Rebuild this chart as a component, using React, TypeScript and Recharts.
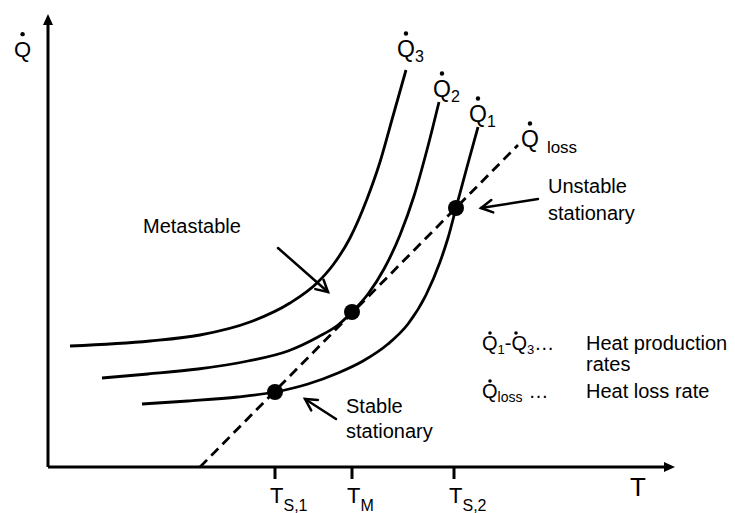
import {
  ComposedChart,
  Line,
  Scatter,
  XAxis,
  YAxis,
  ReferenceLine,
  ReferenceDot,
} from 'recharts';

const FONT = '"Liberation Sans", Arial, sans-serif';

// heat production curves Q1..Q3 and heat loss line (T, Q in plot units)
const q3Curve = [
  { T: 22, Q: 121 }, { T: 102, Q: 126 }, { T: 152, Q: 132 }, { T: 202, Q: 145 },
  { T: 242, Q: 164 }, { T: 269, Q: 184 }, { T: 285, Q: 202 }, { T: 302, Q: 229 },
  { T: 319, Q: 268 }, { T: 332, Q: 305 }, { T: 345, Q: 351 }, { T: 358, Q: 397 },
];
const q2Curve = [
  { T: 54, Q: 89 }, { T: 100, Q: 93 }, { T: 150, Q: 98 }, { T: 200, Q: 106 },
  { T: 240, Q: 116 }, { T: 270, Q: 130 }, { T: 290, Q: 142 }, { T: 304, Q: 155 },
  { T: 320, Q: 173 }, { T: 336, Q: 198 }, { T: 352, Q: 232 }, { T: 366, Q: 271 },
  { T: 380, Q: 321 }, { T: 391, Q: 365 },
];
const q1Curve = [
  { T: 94, Q: 63 }, { T: 140, Q: 66 }, { T: 190, Q: 70 }, { T: 227, Q: 75 },
  { T: 260, Q: 83 }, { T: 290, Q: 94 }, { T: 315, Q: 106 }, { T: 340, Q: 123 },
  { T: 360, Q: 143 }, { T: 378, Q: 172 }, { T: 392, Q: 205 }, { T: 400, Q: 229 },
  { T: 408, Q: 259 }, { T: 419, Q: 300 }, { T: 430, Q: 340 },
];
const lossLine = [{ T: 152, Q: 0 }, { T: 470, Q: 322 }];
const stationaryPoints = [{ T: 227, Q: 75 }, { T: 304, Q: 155 }, { T: 408, Q: 259 }];

const tickValues = [227, 304, 406];
const tickSubs = ['S,1', 'M', 'S,2'];

const T_MAX = 627;
const Q_MAX = 453;

function arrow(kind: 'solid' | 'open') {
  return (p: any) => {
    const { x1, y1, x2, y2 } = p;
    const a = Math.atan2(y2 - y1, x2 - x1);
    if (kind === 'solid') {
      const len = 11, half = 5;
      const bx = x2 - len * Math.cos(a), by = y2 - len * Math.sin(a);
      const px = -Math.sin(a) * half, py = Math.cos(a) * half;
      return (
        <g>
          <line x1={x1} y1={y1} x2={bx} y2={by} stroke="#000" strokeWidth={3} />
          <polygon points={`${x2},${y2} ${bx + px},${by + py} ${bx - px},${by - py}`} fill="#000" />
        </g>
      );
    }
    const len = 13, spread = 0.5;
    const h1x = x2 - len * Math.cos(a - spread), h1y = y2 - len * Math.sin(a - spread);
    const h2x = x2 - len * Math.cos(a + spread), h2y = y2 - len * Math.sin(a + spread);
    return (
      <g stroke="#000" strokeWidth={2.5} fill="none" strokeLinecap="round">
        <line x1={x1} y1={y1} x2={x2} y2={y2} />
        <polyline points={`${h1x},${h1y} ${x2},${y2} ${h2x},${h2y}`} />
      </g>
    );
  };
}

function qLabel(sub: string, size = 23, subSize = 16, subDx = 0, subDy = 5) {
  return (p: any) => {
    const { cx, cy } = p;
    return (
      <g fontFamily={FONT} fill="#000">
        <text x={cx} y={cy} fontSize={size}>
          Q
          <tspan fontSize={subSize} dx={subDx} dy={subDy}>{sub}</tspan>
        </text>
        <circle cx={cx + size * 0.39} cy={cy - size * 0.72 - 7} r={2.2} />
      </g>
    );
  };
}

function textBlock(lines: string[], size = 20, gap = 26) {
  return (p: any) => (
    <text x={p.cx} y={p.cy} fontFamily={FONT} fontSize={size} fill="#000">
      {lines.map((l, i) => (
        <tspan key={i} x={p.cx} dy={i === 0 ? 0 : gap}>{l}</tspan>
      ))}
    </text>
  );
}

function legendBlock(p: any) {
  const { cx, cy } = p;
  const dot = (x: number, y: number) => <circle cx={x} cy={y} r={1.8} fill="#000" />;
  return (
    <g fontFamily={FONT} fill="#000">
      <text x={cx} y={cy} fontSize={20}>
        Q<tspan fontSize={13} dy={4}>1</tspan><tspan dy={-4}>-Q</tspan><tspan fontSize={13} dy={4}>3</tspan>
        <tspan dy={-4}>…</tspan>
      </text>
      {dot(cx + 8, cy - 17)}
      {dot(cx + 34, cy - 17)}
      <text x={cx + 104} y={cy} fontSize={20}>Heat production</text>
      <text x={cx + 104} y={cy + 21} fontSize={20}>rates</text>
      <text x={cx} y={cy + 48} fontSize={20}>
        Q<tspan fontSize={14} dy={4}>loss</tspan><tspan dy={-4} dx={6}>…</tspan>
      </text>
      {dot(cx + 8, cy + 31)}
      <text x={cx + 104} y={cy + 48} fontSize={20}>Heat loss rate</text>
    </g>
  );
}

function TempTick(p: any) {
  const { x, y, payload, index } = p;
  const i = index ?? tickValues.indexOf(payload.value);
  return (
    <text x={x - 5} y={y + 22} fontFamily={FONT} fill="#000" fontSize={22}>
      T
      <tspan fontSize={16} dy={8}>{tickSubs[i]}</tspan>
    </text>
  );
}

export default function App() {
  return (
    <div style={{ position: 'absolute', left: 0, top: 0, background: '#fff' }}>
      <ComposedChart
        width={735}
        height={513}
        margin={{ top: 14, right: 60, left: 48, bottom: 6 }}
      >
        <XAxis
          type="number"
          dataKey="T"
          domain={[0, T_MAX]}
          allowDataOverflow
          ticks={tickValues}
          interval={0}
          height={40}
          axisLine={false}
          tickLine={{ stroke: '#000', strokeWidth: 3 }}
          tickSize={12}
          tick={<TempTick />}
        />
        <YAxis type="number" dataKey="Q" domain={[0, Q_MAX]} allowDataOverflow hide />

        <ReferenceLine segment={[{ x: 0, y: 0 }, { x: 0, y: Q_MAX }]} ifOverflow="visible" shape={arrow('solid')} />
        <ReferenceLine segment={[{ x: 0, y: 0 }, { x: T_MAX, y: 0 }]} ifOverflow="visible" shape={arrow('solid')} />

        <Line data={lossLine} dataKey="Q" type="linear" stroke="#000" strokeWidth={2.8}
          strokeDasharray="10 6" dot={false} isAnimationActive={false} />
        <Line data={q3Curve} dataKey="Q" type="monotone" stroke="#000" strokeWidth={2.8}
          dot={false} isAnimationActive={false} />
        <Line data={q2Curve} dataKey="Q" type="monotone" stroke="#000" strokeWidth={2.8}
          dot={false} isAnimationActive={false} />
        <Line data={q1Curve} dataKey="Q" type="monotone" stroke="#000" strokeWidth={2.8}
          dot={false} isAnimationActive={false} />
        <Scatter data={stationaryPoints} dataKey="Q" isAnimationActive={false}
          shape={(p: any) => <circle cx={p.cx} cy={p.cy} r={8} fill="#000" />} />

        {/* annotation arrows */}
        <ReferenceLine segment={[{ x: 230, y: 219 }, { x: 280, y: 175 }]} ifOverflow="visible" shape={arrow('open')} />
        <ReferenceLine segment={[{ x: 288, y: 48 }, { x: 257, y: 68 }]} ifOverflow="visible" shape={arrow('open')} />
        <ReferenceLine segment={[{ x: 490, y: 268 }, { x: 433, y: 259 }]} ifOverflow="visible" shape={arrow('open')} />

        {/* labels */}
        <ReferenceDot x={0} y={410} ifOverflow="visible"
          shape={(p: any) => qLabel('', 22)({ cx: p.cx - 34, cy: p.cy })} />
        <ReferenceDot x={582} y={-29} ifOverflow="visible"
          shape={(p: any) => <text x={p.cx} y={p.cy} fontFamily={FONT} fontSize={26} fill="#000">T</text>} />
        <ReferenceDot x={349} y={410} ifOverflow="visible" shape={qLabel('3')} />
        <ReferenceDot x={385} y={370} ifOverflow="visible" shape={qLabel('2')} />
        <ReferenceDot x={421} y={345} ifOverflow="visible" shape={qLabel('1')} />
        <ReferenceDot x={473} y={320} ifOverflow="visible" shape={qLabel('loss', 23, 17, 8, 6)} />
        <ReferenceDot x={95} y={234} ifOverflow="visible" shape={textBlock(['Metastable'])} />
        <ReferenceDot x={298} y={54} ifOverflow="visible" shape={textBlock(['Stable', 'stationary'], 20, 25)} />
        <ReferenceDot x={500} y={274} ifOverflow="visible" shape={textBlock(['Unstable', 'stationary'], 20, 27)} />
        <ReferenceDot x={434} y={117} ifOverflow="visible" shape={legendBlock} />
      </ComposedChart>
    </div>
  );
}
